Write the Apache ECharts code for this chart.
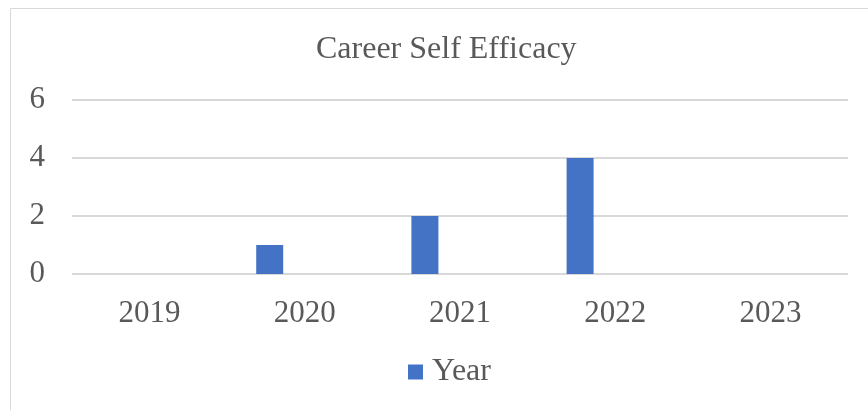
<!DOCTYPE html>
<html>
<head>
<meta charset="utf-8">
<script src="https://cdn.jsdelivr.net/npm/echarts@6/dist/echarts.min.js"></script>
<style>html,body{margin:0;padding:0;background:#fff}#c{width:868px;height:410px}</style>
</head>
<body>
<div id="c"></div>
<script>
const categories = ['2019', '2020', '2021', '2022', '2023'];
const yearValues = [0, 1, 2, 4, 0];
const placeholderValues = [null, null, null, null, null];
const yTicks = [0, 2, 4, 6];

const font = '"Liberation Serif", "Times New Roman", serif';
const chart = echarts.init(document.getElementById('c'), null, {renderer: 'canvas'});
chart.setOption({
  animation: false,
  backgroundColor: '#ffffff',
  graphic: [{
    type: 'rect', silent: true, z: -1,
    shape: {x: 10.5, y: 8.5, width: 900, height: 500},
    style: {fill: 'none', stroke: '#d9d9d9', lineWidth: 1}
  }],
  title: {
    text: 'Career Self Efficacy', left: 316, top: 29, padding: [5, 0, 5, 0],
    textStyle: {fontFamily: font, fontSize: 32, fontWeight: 'normal', color: '#595959'}
  },
  legend: {
    data: ['Year'], top: 356, left: 408, padding: 0, itemWidth: 15, itemHeight: 15, itemGap: 10,
    icon: 'rect',
    textStyle: {fontFamily: font, fontSize: 32, color: '#595959', padding: [0, 0, 0, 4]}
  },
  grid: {left: 72, right: 20, top: 100, bottom: 136},
  xAxis: {
    type: 'category', data: categories,
    axisLine: {show: false}, axisTick: {show: false},
    axisLabel: {fontFamily: font, fontSize: 31, color: '#595959', margin: 24}
  },
  yAxis: {
    type: 'value', min: yTicks[0], max: yTicks[yTicks.length - 1], interval: 2,
    axisLine: {show: false}, axisTick: {show: false},
    splitLine: {lineStyle: {color: '#d9d9d9', width: 2}},
    axisLabel: {fontFamily: font, fontSize: 31, color: '#595959', margin: 27}
  },
  series: [
    {name: 'Year', type: 'bar', data: yearValues, barWidth: 27, barGap: '160%',
     itemStyle: {color: '#4472c4'}},
    {name: 'placeholder', type: 'bar', data: placeholderValues, barWidth: 27,
     itemStyle: {color: 'transparent'}}
  ]
});
</script>
</body>
</html>
